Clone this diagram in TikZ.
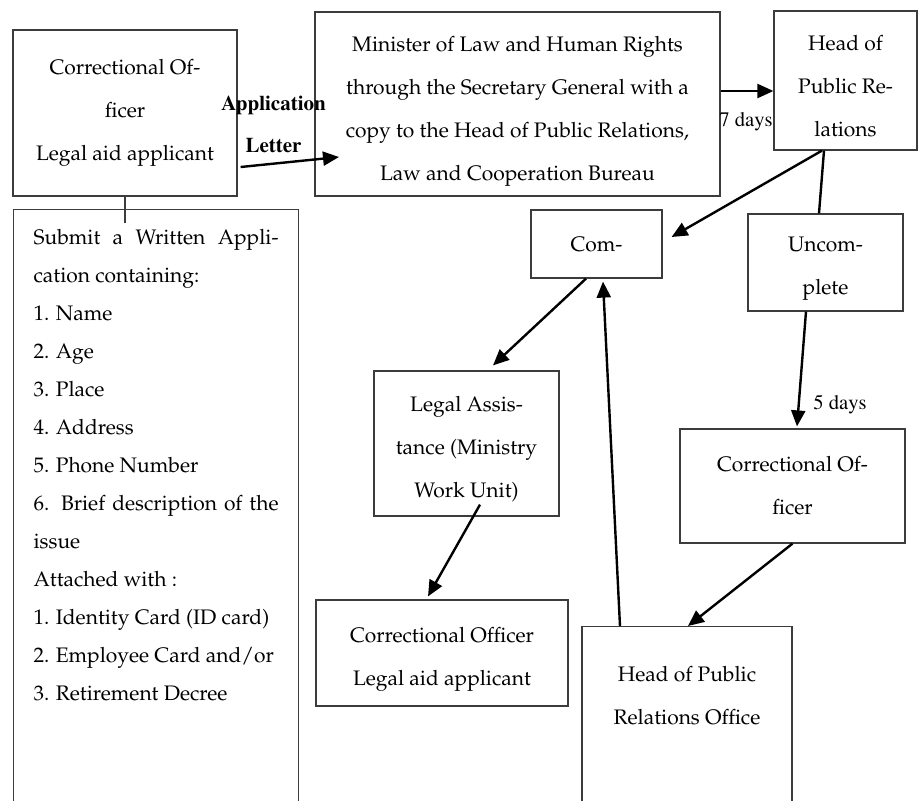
\documentclass[tikz,border=0pt]{standalone}
\usepackage[T1]{fontenc}
\usepackage{mathpazo}
\usetikzlibrary{arrows.meta}
\definecolor{boxGray}{RGB}{60,60,60}

\begin{document}
\begin{tikzpicture}[x=0.5pt,y=-0.5pt,
    stepbox/.style={draw=boxGray,line width=0.6pt,align=center,inner sep=0pt,
      font=\fontsize{10.5}{21.5}\selectfont},
    flow/.style={line width=1.2pt,-{Triangle[length=8pt,width=7pt]}},
    tie/.style={line width=1.2pt},
    daylbl/.style={font=\fontfamily{ptm}\fontsize{10.3}{12}\selectfont,inner sep=0pt}]
  \clip (0,0) rectangle (922,800);

  % boxes
  \node[stepbox,minimum width=112pt,minimum height=83pt] (app) at (125,113)
    {Correctional Of-\\ficer\\Legal aid applicant};
  \node[stepbox,minimum width=202.5pt,minimum height=92pt] (mini) at (517.5,104)
    {\parbox{200pt}{\centering\vspace*{7pt}Minister of Law and Human Rights\\through the Secretary General with a\\copy to the Head of Public Relations,\\Law and Cooperation Bureau}};
  \node[stepbox,minimum width=71.5pt,minimum height=69.5pt] (headpr) at (845.5,80.5)
    {\parbox{70pt}{\centering\vspace*{6pt}Head of\\Public Re-\\lations}};
  \node[stepbox,minimum width=65.5pt,minimum height=34pt] (comp) at (596.5,244) {Com-};
  \node[stepbox,minimum width=77.5pt,minimum height=48.5pt] (uncomp) at (825.5,262.5)
    {\parbox{76pt}{\centering\vspace*{6.5pt}Uncom-\\plete}};
  \node[stepbox,minimum width=92.5pt,minimum height=72.5pt] (legal) at (466.5,443.5)
    {\parbox{90pt}{\centering\vspace*{6pt}Legal Assis-\\tance (Ministry\\Work Unit)}};
  \node[stepbox,minimum width=112.5pt,minimum height=57pt] (officer) at (792.5,486)
    {Correctional Of-\\ficer};
  \node[stepbox,minimum width=126pt,minimum height=53pt] (result) at (442,653)
    {\parbox{124pt}{\centering\vspace*{6pt}Correctional Officer\\Legal aid applicant}};
  \node[stepbox,anchor=north,inner ysep=20pt] (hpro) at (687,626)
    {\parbox[t][100pt][t]{105pt}{\centering Head of Public\\Relations Office}};
  \node[stepbox,anchor=north west,inner xsep=10pt,inner ysep=10pt,
    font=\fontsize{10.5}{19}\selectfont] (req) at (13,209)
    {\parbox[t][300pt][t]{122.5pt}{\raggedright
      \makebox[\linewidth][s]{Submit a Written Appli-}\\
      cation containing:\\
      1. Name\\
      2. Age\\
      3. Place\\
      4. Address\\
      5. Phone Number\\
      \makebox[\linewidth][s]{6. Brief description of the}\\
      issue\\
      Attached with :\\
      1. Identity Card (ID card)\\
      2. Employee Card and/or\\
      3. Retirement Decree}};

  % labels
  \node[daylbl,align=center,font=\fontfamily{ptm}\bfseries\fontsize{10.5}{21}\selectfont]
    (letterlbl) at (273.5,124) {Application\\Letter};
  \node[daylbl] (days7) at (746,122) {7 days};
  \node[daylbl] (days5) at (840,405) {5 days};

  % connectors
  \coordinate (reqtap) at (125,223);
  \coordinate (lettertip) at (339,157);
  \draw[boxGray,line width=0.6pt] (app.south) -- (reqtap);
  \draw[flow] ([shift={(3,54)}]app.east) -- (lettertip);
  \draw[flow] ([yshift=6.5pt]mini.east) -- ([yshift=6.5pt]mini.east -| headpr.west);
  \draw[flow] ([xshift=-11.75pt]headpr.south) -- ([shift={(9,-7)}]comp.east);
  \draw[tie] ([xshift=-10.75pt]headpr.south) -- ([xshift=-3.25pt]uncomp.north);
  \draw[flow] ([xshift=-9.75pt]uncomp.south) -- ([shift={(4.5,-2)}]officer.north);
  \draw[flow] ([xshift=-5.25pt]comp.south) -- ([shift={(26.5,-5)}]legal.north);
  \draw[flow] ([shift={(13.5,-12)}]legal.south) -- ([shift={(-14,-3)}]result.north);
  \draw[flow] (officer.south) -- ([xshift=0.5pt]hpro.north);
  \draw[flow] ([xshift=-33.5pt]hpro.north) -- ([shift={(6.5,3)}]comp.south);
\end{tikzpicture}
\end{document}
